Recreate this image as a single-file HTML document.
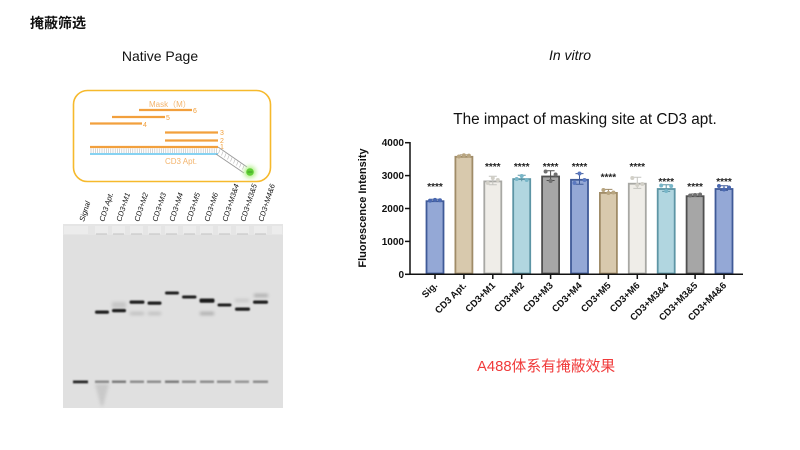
<!DOCTYPE html>
<html><head><meta charset="utf-8"><style>
html,body{margin:0;padding:0;background:#fff;}
svg{display:block;}
</style></head><body>
<svg width="800" height="450" viewBox="0 0 800 450" xmlns="http://www.w3.org/2000/svg" font-family="Liberation Sans, Arial, sans-serif">
<defs>
<filter id="b1" x="-50%" y="-200%" width="200%" height="500%"><feGaussianBlur stdDeviation="0.8"/></filter>
<filter id="b2" x="-50%" y="-200%" width="200%" height="500%"><feGaussianBlur stdDeviation="1.5"/></filter>
<filter id="g" x="-100%" y="-100%" width="300%" height="300%"><feGaussianBlur stdDeviation="2"/></filter>
</defs>

<!-- Headings -->
<text x="30" y="28" font-size="14" font-weight="bold" font-family="Liberation Sans, Noto Sans CJK SC, sans-serif" fill="#111">掩蔽筛选</text>
<text x="160" y="61" font-size="14" text-anchor="middle" fill="#111">Native Page</text>
<text x="570" y="60" font-size="14" font-style="italic" text-anchor="middle" fill="#111">In vitro</text>

<!-- Diagram -->
<rect x="73.5" y="90.5" width="197" height="91" rx="14" fill="#fff" stroke="#f6b92c" stroke-width="1.6"/>
<text x="149" y="107" font-size="8" fill="#f3b46c" font-family="Liberation Sans, Noto Sans CJK SC, sans-serif">Mask（M）</text>
<g stroke="#f2a03d" stroke-width="2.2">
<line x1="139" y1="110" x2="192" y2="110"/>
<line x1="112" y1="117" x2="165" y2="117"/>
<line x1="90" y1="123.5" x2="142" y2="123.5"/>
<line x1="165" y1="132.5" x2="218" y2="132.5"/>
<line x1="165" y1="140.5" x2="218" y2="140.5"/>
<line x1="90" y1="147" x2="218" y2="147"/>
</g>
<g font-size="7" fill="#f2a03d">
<text x="193" y="113">6</text>
<text x="166" y="120">5</text>
<text x="143" y="127">4</text>
<text x="220" y="135">3</text>
<text x="220" y="143">2</text>
<text x="220" y="149">1</text>
</g>
<g stroke="#b8b8b8" stroke-width="0.6">
<path d="M91 148.5V153 M93.2 148.5V153 M95.4 148.5V153 M97.6 148.5V153 M99.8 148.5V153 M102 148.5V153 M104.2 148.5V153 M106.4 148.5V153 M108.6 148.5V153 M110.8 148.5V153 M113 148.5V153 M115.2 148.5V153 M117.4 148.5V153 M119.6 148.5V153 M121.8 148.5V153 M124 148.5V153 M126.2 148.5V153 M128.4 148.5V153 M130.6 148.5V153 M132.8 148.5V153 M135 148.5V153 M137.2 148.5V153 M139.4 148.5V153 M141.6 148.5V153 M143.8 148.5V153 M146 148.5V153 M148.2 148.5V153 M150.4 148.5V153 M152.6 148.5V153 M154.8 148.5V153 M157 148.5V153 M159.2 148.5V153 M161.4 148.5V153 M163.6 148.5V153 M165.8 148.5V153 M168 148.5V153 M170.2 148.5V153 M172.4 148.5V153 M174.6 148.5V153 M176.8 148.5V153 M179 148.5V153 M181.2 148.5V153 M183.4 148.5V153 M185.6 148.5V153 M187.8 148.5V153 M190 148.5V153 M192.2 148.5V153 M194.4 148.5V153 M196.6 148.5V153 M198.8 148.5V153 M201 148.5V153 M203.2 148.5V153 M205.4 148.5V153 M207.6 148.5V153 M209.8 148.5V153 M212 148.5V153 M214.2 148.5V153 M216.4 148.5V153"/>
</g>
<line x1="90" y1="154" x2="218" y2="154" stroke="#86d2f2" stroke-width="2"/>
<text x="165" y="164" font-size="8" fill="#f3b46c">CD3 Apt.</text>
<g stroke="#9a9a9a" stroke-width="0.9">
<line x1="218" y1="147" x2="247" y2="167"/>
<line x1="216" y1="154" x2="244" y2="173"/>
</g>
<g stroke="#b8b8b8" stroke-width="0.6">
<path d="M220 149.5L218.5 153.5 M223 151.5L221.5 155.5 M226 153.5L224.5 157.5 M229 155.5L227.5 159.5 M232 157.5L230.5 161.5 M235 159.5L233.5 163.5 M238 161.5L236.5 165.5 M241 163.5L239.5 167.5 M244 165.5L242.5 169.5"/>
</g>
<circle cx="250" cy="172" r="6" fill="#b5f08f" filter="url(#g)"/>
<circle cx="250" cy="172" r="3.8" fill="#5fcf35"/>
<line x1="247.5" y1="172" x2="252.5" y2="172" stroke="#2a7a20" stroke-width="0.6"/>

<!-- Lane labels -->
<g font-size="7.5" fill="#111" font-style="italic">
<text transform="translate(84,222) rotate(-72)">Signal</text>
<text transform="translate(104,222) rotate(-72)">CD3 Apt.</text>
<text transform="translate(121,222) rotate(-72)">CD3+M1</text>
<text transform="translate(139,222) rotate(-72)">CD3+M2</text>
<text transform="translate(157,222) rotate(-72)">CD3+M3</text>
<text transform="translate(174,222) rotate(-72)">CD3+M4</text>
<text transform="translate(191,222) rotate(-72)">CD3+M5</text>
<text transform="translate(209,222) rotate(-72)">CD3+M6</text>
<text transform="translate(227,222) rotate(-72)">CD3+M3&amp;4</text>
<text transform="translate(245,222) rotate(-72)">CD3+M3&amp;5</text>
<text transform="translate(263,222) rotate(-72)">CD3+M4&amp;6</text>
</g>

<!-- Gel -->
<rect x="63" y="224" width="220" height="184" fill="#e0e0e0"/>
<rect x="63" y="224" width="220" height="11" fill="#e5e5e5"/>
<g fill="#ececec">
<rect x="64" y="226" width="11" height="8"/>
<rect x="75" y="226" width="13" height="8"/>
<rect x="95" y="226" width="13" height="8"/>
<rect x="112" y="226" width="13" height="8"/>
<rect x="130" y="226" width="13" height="8"/>
<rect x="148" y="226" width="13" height="8"/>
<rect x="165" y="226" width="13" height="8"/>
<rect x="183" y="226" width="13" height="8"/>
<rect x="200" y="226" width="13" height="8"/>
<rect x="218" y="226" width="13" height="8"/>
<rect x="236" y="226" width="13" height="8"/>
<rect x="254" y="226" width="13" height="8"/>
<rect x="272" y="226" width="10" height="8"/>
</g>
<g stroke="#b4b4b4" stroke-width="0.8">
<path d="M96 234H107 M113 234H124 M131 234H142 M149 234H160 M166 234H177 M184 234H195 M201 234H212 M219 234H230 M237 234H248 M255 234H266"/>
</g>
<!-- faint bands / smears -->
<g filter="url(#b2)">
<rect x="112" y="302" width="14" height="6" fill="#c6c6c6"/>
<rect x="130" y="312" width="14" height="3" fill="#bdbdbd"/>
<rect x="148" y="312" width="13" height="3" fill="#bdbdbd"/>
<rect x="200" y="312" width="14" height="3" fill="#a8a8a8"/>
<rect x="235" y="299" width="14" height="3" fill="#c6c6c6"/>
<rect x="254" y="294" width="14" height="3" fill="#a8a8a8"/>
<path d="M95 384 L109 384 L103 406 L101 406 Z" fill="#c9c9c9"/>
</g>
<!-- main bands -->
<g filter="url(#b1)" fill="#1c1c1c">
<rect x="95" y="310.5" width="14" height="3.2" rx="1.5"/>
<rect x="112" y="309" width="14" height="3.2" rx="1.5"/>
<rect x="129.5" y="300.5" width="15" height="3.2" rx="1.5"/>
<rect x="147.5" y="301.5" width="14" height="3.2" rx="1.5"/>
<rect x="165" y="291.5" width="14" height="3" rx="1.5"/>
<rect x="182" y="295.5" width="14.5" height="3" rx="1.5"/>
<rect x="199.5" y="298.5" width="15" height="4.2" rx="1.5"/>
<rect x="217.5" y="303.5" width="14" height="3" rx="1.5"/>
<rect x="235" y="307.5" width="15" height="3.2" rx="1.5"/>
<rect x="253" y="300.5" width="15" height="3.2" rx="1.5"/>
</g>
<!-- bottom bands -->
<g filter="url(#b1)">
<rect x="73" y="380.5" width="15" height="2.8" fill="#262626"/>
<rect x="95" y="380.5" width="14" height="2.5" fill="#8a8a8a"/>
<rect x="112" y="380.5" width="14" height="2.5" fill="#7a7a7a"/>
<rect x="130" y="380.5" width="14" height="2.5" fill="#8c8c8c"/>
<rect x="147" y="380.5" width="14" height="2.5" fill="#8c8c8c"/>
<rect x="165" y="380.5" width="14" height="2.5" fill="#7a7a7a"/>
<rect x="182" y="380.5" width="14" height="2.5" fill="#8c8c8c"/>
<rect x="200" y="380.5" width="14" height="2.5" fill="#8c8c8c"/>
<rect x="217" y="380.5" width="14" height="2.5" fill="#8c8c8c"/>
<rect x="235" y="380.5" width="14" height="2.5" fill="#959595"/>
<rect x="253" y="380.5" width="15" height="2.5" fill="#8c8c8c"/>
</g>

<!-- Chart title -->
<text x="585" y="124" font-size="15.3" text-anchor="middle" fill="#111">The impact of masking site at CD3 apt.</text>
<text transform="translate(366,208) rotate(-90)" font-size="11" font-weight="bold" text-anchor="middle" fill="#111">Fluorescence Intensity</text>

<!-- Y axis -->
<g stroke="#111" stroke-width="1.5">
<line x1="410" y1="142" x2="410" y2="275"/>
<line x1="405" y1="274.3" x2="410" y2="274.3"/>
<line x1="405" y1="241.4" x2="410" y2="241.4"/>
<line x1="405" y1="208.5" x2="410" y2="208.5"/>
<line x1="405" y1="175.6" x2="410" y2="175.6"/>
<line x1="405" y1="142.7" x2="410" y2="142.7"/>
</g>
<g font-size="10" font-weight="bold" text-anchor="end" fill="#111">
<text x="404" y="277.8">0</text>
<text x="404" y="244.9">1000</text>
<text x="404" y="212">2000</text>
<text x="404" y="179.1">3000</text>
<text x="404" y="146.2">4000</text>
</g>

<!-- Bars -->
<g stroke-width="1.8">
<rect x="426.5" y="201.2" width="17" height="72.3" fill="#94a8d6" stroke="#3f5a98"/>
<rect x="455.4" y="156.8" width="17" height="116.7" fill="#d8c9ad" stroke="#a08c68"/>
<rect x="484.3" y="181.4" width="17" height="92.1" fill="#efede8" stroke="#a8a8a4"/>
<rect x="513.2" y="179.1" width="17" height="94.4" fill="#b1d6e0" stroke="#5d95a5"/>
<rect x="542.1" y="176.5" width="17" height="97" fill="#a6a6a6" stroke="#505050"/>
<rect x="571" y="179.8" width="17" height="93.7" fill="#94a8d6" stroke="#3f5a98"/>
<rect x="599.9" y="192.9" width="17" height="80.6" fill="#d8c9ad" stroke="#a08c68"/>
<rect x="628.8" y="183.7" width="17" height="89.8" fill="#efede8" stroke="#a8a8a4"/>
<rect x="657.7" y="189" width="17" height="84.5" fill="#b1d6e0" stroke="#5d95a5"/>
<rect x="686.6" y="196.2" width="17" height="77.3" fill="#a6a6a6" stroke="#505050"/>
<rect x="715.5" y="189" width="17" height="84.5" fill="#94a8d6" stroke="#3f5a98"/>
</g>

<!-- Error bars -->
<g stroke-width="1" fill="none">
<path d="M435 201.3V199.3 M431 199.3H439" stroke="#3f5a98"/>
<path d="M463.9 156.9V154.9 M459.9 154.9H467.9" stroke="#a08c68"/>
<path d="M492.8 184.8V176.3 M488.8 176.3H496.8 M488.8 184.8H496.8" stroke="#c4c4bf"/>
<path d="M521.7 181.2V175.3 M517.7 175.3H525.7" stroke="#5d95a5"/>
<path d="M550.6 180.5V170.7 M546.6 170.7H554.6 M546.6 180.5H554.6" stroke="#505050"/>
<path d="M579.5 184.2V173.6 M575.5 173.6H583.5 M575.5 184.2H583.5" stroke="#3f5a98"/>
<path d="M608.4 194.7V189.4 M604.4 189.4H612.4" stroke="#a08c68"/>
<path d="M637.3 188.4V177.3 M633.3 177.3H641.3 M633.3 188.4H641.3" stroke="#c4c4bf"/>
<path d="M666.2 191.4V184.8 M662.2 184.8H670.2 M662.2 191.4H670.2" stroke="#5d95a5"/>
<path d="M695.1 196.7V194 M691.1 194H699.1" stroke="#505050"/>
<path d="M724 190.4V185.8 M720 185.8H728 M720 190.4H728" stroke="#3f5a98"/>
</g>

<!-- Dots -->
<g>
<g fill="#4a68b0"><circle cx="430" cy="200.6" r="2"/><circle cx="435" cy="199.9" r="2"/><circle cx="440" cy="200.3" r="2"/></g>
<g fill="#b8a580"><circle cx="458.9" cy="156.5" r="2"/><circle cx="463.9" cy="155.2" r="2"/><circle cx="468.9" cy="155.6" r="2"/></g>
<g fill="#d2d0c8"><circle cx="487.8" cy="183" r="2"/><circle cx="492.8" cy="178" r="2"/><circle cx="497.8" cy="180" r="2"/></g>
<g fill="#78b6c8"><circle cx="516.7" cy="179" r="2"/><circle cx="521.7" cy="176" r="2"/><circle cx="526.7" cy="180" r="2"/></g>
<g fill="#707070"><circle cx="545.6" cy="171.5" r="2"/><circle cx="550.6" cy="181" r="2"/><circle cx="555.6" cy="174.5" r="2"/></g>
<g fill="#5a78c0"><circle cx="574.5" cy="183" r="2"/><circle cx="579.5" cy="173.5" r="2"/><circle cx="584.5" cy="180" r="2"/></g>
<g fill="#b8a580"><circle cx="603.4" cy="190" r="2"/><circle cx="608.4" cy="193" r="2"/><circle cx="613.4" cy="192.5" r="2"/></g>
<g fill="#d2d0c8"><circle cx="632.3" cy="178" r="2"/><circle cx="637.3" cy="185" r="2"/><circle cx="642.3" cy="184" r="2"/></g>
<g fill="#78b6c8"><circle cx="661.2" cy="185.5" r="2"/><circle cx="666.2" cy="191" r="2"/><circle cx="671.2" cy="186" r="2"/></g>
<g fill="#707070"><circle cx="690.1" cy="195.5" r="2"/><circle cx="695.1" cy="195" r="2"/><circle cx="700.1" cy="194.5" r="2"/></g>
<g fill="#4a68b0"><circle cx="719" cy="186" r="2"/><circle cx="724" cy="189.5" r="2"/><circle cx="729" cy="187.5" r="2"/></g>
</g>

<!-- Stars -->
<g font-size="10" font-weight="bold" text-anchor="middle" fill="#222">
<text x="435" y="190">****</text>
<text x="492.8" y="170">****</text>
<text x="521.7" y="170">****</text>
<text x="550.6" y="170">****</text>
<text x="579.5" y="170">****</text>
<text x="608.4" y="180.5">****</text>
<text x="637.3" y="170">****</text>
<text x="666.2" y="185">****</text>
<text x="695.1" y="190">****</text>
<text x="724" y="185">****</text>
</g>

<!-- X axis -->
<g stroke="#111" stroke-width="1.5">
<line x1="409.3" y1="274.3" x2="743" y2="274.3"/>
<path d="M435 274V279 M463.9 274V279 M492.8 274V279 M521.7 274V279 M550.6 274V279 M579.5 274V279 M608.4 274V279 M637.3 274V279 M666.2 274V279 M695.1 274V279 M724 274V279"/>
</g>
<g font-size="9.5" font-weight="bold" text-anchor="end" fill="#111">
<text transform="translate(438,286) rotate(-45)">Sig.</text>
<text transform="translate(466.9,286) rotate(-45)">CD3 Apt.</text>
<text transform="translate(495.8,286) rotate(-45)">CD3+M1</text>
<text transform="translate(524.7,286) rotate(-45)">CD3+M2</text>
<text transform="translate(553.6,286) rotate(-45)">CD3+M3</text>
<text transform="translate(582.5,286) rotate(-45)">CD3+M4</text>
<text transform="translate(611.4,286) rotate(-45)">CD3+M5</text>
<text transform="translate(640.3,286) rotate(-45)">CD3+M6</text>
<text transform="translate(669.2,286) rotate(-45)">CD3+M3&amp;4</text>
<text transform="translate(698.1,286) rotate(-45)">CD3+M3&amp;5</text>
<text transform="translate(727,286) rotate(-45)">CD3+M4&amp;6</text>
</g>

<!-- Red note -->
<text x="477" y="371" font-size="14.8" fill="#f03a3a" font-family="Liberation Sans, Noto Sans CJK SC, sans-serif">A488体系有掩蔽效果</text>
</svg>
</body></html>
